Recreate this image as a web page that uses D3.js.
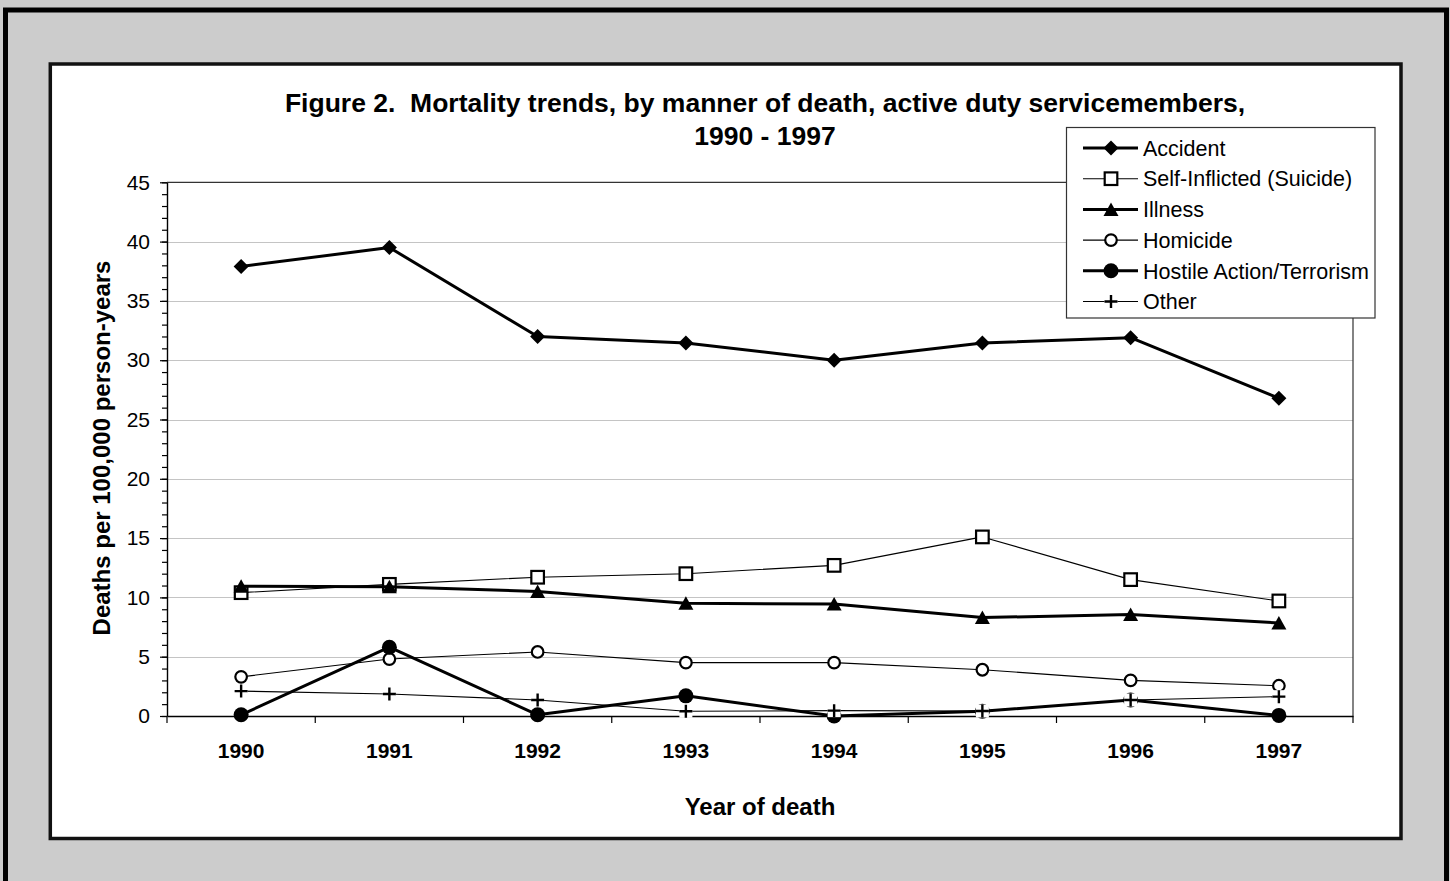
<!DOCTYPE html>
<html>
<head>
<meta charset="utf-8">
<script src="https://cdn.jsdelivr.net/npm/d3@7/dist/d3.min.js"></script>
<style>
  html, body { margin: 0; padding: 0; background: #cccccc; }
  svg { display: block; font-family: "Liberation Sans", Arial, sans-serif; }
</style>
</head>
<body>
<div id="chart"></div>
<script>
// values (deaths per 100,000 person-years)
const years = ["1990", "1991", "1992", "1993", "1994", "1995", "1996", "1997"];
const accident = [37.9, 39.5, 32.0, 31.45, 30.0, 31.45, 31.9, 26.8];
const suicide = [10.4, 11.1, 11.7, 12.0, 12.7, 15.1, 11.5, 9.7];
const illness = [10.95, 10.9, 10.5, 9.5, 9.45, 8.3, 8.55, 7.85];
const homicide = [3.3, 4.8, 5.4, 4.5, 4.5, 3.9, 3.0, 2.55];
const hostile = [0.1, 5.8, 0.1, 1.7, 0.0, 0.4, 1.35, 0.05];
const other = [2.1, 1.85, 1.35, 0.4, 0.45, 0.42, 1.35, 1.63];

const seriesNames = ["Accident", "Self-Inflicted (Suicide)", "Illness", "Homicide", "Hostile Action/Terrorism", "Other"];
const seriesValues = [accident, suicide, illness, homicide, hostile, other];
const seriesMarkers = ["diamond", "square", "triangle", "circleOpen", "circleFilled", "plus"];
const seriesWidths = [3, 1.1, 3, 1.1, 3, 1.1];

const yTicks = [0, 5, 10, 15, 20, 25, 30, 35, 40, 45];
const yMinor = d3.range(0, 46, 1);

const titleLines = ["Figure 2.  Mortality trends, by manner of death, active duty servicemembers,", "1990 - 1997"];
const xTitle = "Year of death";
const yTitle = "Deaths per 100,000 person-years";

const W = 1450, H = 881;

const svg = d3.select("#chart")
  .append("svg")
  .attr("width", W)
  .attr("height", H);

// gray page + frames
svg.append("rect").attr("width", W).attr("height", H).attr("fill", "#cccccc");
svg.append("rect")
  .attr("x", 5.5).attr("y", 10).attr("width", 1441).attr("height", 1000)
  .attr("fill", "none").attr("stroke", "#000").attr("stroke-width", 5);
svg.append("rect")
  .attr("x", 50.3).attr("y", 64).attr("width", 1350.7).attr("height", 774.5)
  .attr("fill", "#fff").attr("stroke", "#111").attr("stroke-width", 3.5);

const plot = { left: 167, right: 1353, top: 182.3, bottom: 716 };

const x = d3.scaleBand().domain(years).range([plot.left, plot.right]);
const y = d3.scaleLinear().domain([0, 45]).range([plot.bottom, plot.top]);
const cx = d => x(d) + x.bandwidth() / 2;

// gridlines
svg.append("g")
  .selectAll("line")
  .data(yTicks.filter(v => v > 0 && v < 45))
  .enter()
  .append("line")
  .attr("x1", plot.left).attr("x2", plot.right)
  .attr("y1", d => Math.round(y(d)) + 0.5).attr("y2", d => Math.round(y(d)) + 0.5)
  .attr("stroke", "#c4c4c4").attr("stroke-width", 1.2);

// plot area border (top + right)
svg.append("path")
  .attr("d", `M${plot.left},${y(45)}H${plot.right}V${y(0)}`)
  .attr("fill", "none").attr("stroke", "#333").attr("stroke-width", 1.2);

// y axis
const yMinorAxis = svg.append("g")
  .attr("transform", `translate(${plot.left},0)`)
  .call(d3.axisLeft(y).tickValues(yMinor).tickSize(5).tickFormat(""));
yMinorAxis.select(".domain").remove();
yMinorAxis.selectAll("line").attr("stroke", "#000").attr("stroke-width", 1.2);

const yAxis = svg.append("g")
  .attr("transform", `translate(${plot.left},0)`)
  .call(d3.axisLeft(y).tickValues(yTicks).tickSize(7).tickSizeOuter(0).tickPadding(10));
yAxis.selectAll("line").attr("stroke", "#000").attr("stroke-width", 1.2);
yAxis.select(".domain").attr("stroke", "#000").attr("stroke-width", 1.4);
yAxis.selectAll("text")
  .attr("font-size", 21)
  .attr("font-family", "'Liberation Sans', Arial, sans-serif")
  .attr("fill", "#000");

// x axis
const xAxis = svg.append("g")
  .attr("transform", `translate(0,${plot.bottom})`)
  .call(d3.axisBottom(x).tickSize(0).tickSizeOuter(0).tickPadding(0));
xAxis.select(".domain").attr("stroke", "#000").attr("stroke-width", 1.4);
xAxis.selectAll("text")
  .attr("y", 42).attr("dy", null)
  .attr("font-size", 21)
  .attr("font-weight", "bold")
  .attr("font-family", "'Liberation Sans', Arial, sans-serif")
  .attr("fill", "#000");

svg.append("g")
  .selectAll("line")
  .data(years.map(d => x(d)).concat([plot.right]))
  .enter()
  .append("line")
  .attr("x1", d => d).attr("x2", d => d)
  .attr("y1", plot.bottom).attr("y2", plot.bottom + 7)
  .attr("stroke", "#000").attr("stroke-width", 1.2);

// markers
function drawMarker(g, type, px, py) {
  if (type === "diamond") {
    g.append("path")
      .attr("d", `M${px},${py - 7.5}L${px + 7.5},${py}L${px},${py + 7.5}L${px - 7.5},${py}Z`)
      .attr("fill", "#000");
  } else if (type === "square") {
    g.append("rect")
      .attr("x", px - 6.3).attr("y", py - 6.3).attr("width", 12.6).attr("height", 12.6)
      .attr("fill", "#fff").attr("stroke", "#000").attr("stroke-width", 2.2);
  } else if (type === "triangle") {
    g.append("path")
      .attr("d", `M${px},${py - 7}L${px + 7.5},${py + 6.5}L${px - 7.5},${py + 6.5}Z`)
      .attr("fill", "#000");
  } else if (type === "circleOpen") {
    g.append("circle")
      .attr("cx", px).attr("cy", py).attr("r", 5.8)
      .attr("fill", "#fff").attr("stroke", "#000").attr("stroke-width", 2.2);
  } else if (type === "circleFilled") {
    g.append("circle")
      .attr("cx", px).attr("cy", py).attr("r", 7.5)
      .attr("fill", "#000");
  } else if (type === "plus") {
    g.append("rect")
      .attr("x", px - 6.5).attr("y", py - 6.5).attr("width", 13).attr("height", 13)
      .attr("fill", "#fff");
    g.append("path")
      .attr("d", `M${px - 6.5},${py}H${px + 6.5}M${px},${py - 6.5}V${py + 6.5}`)
      .attr("stroke", "#000").attr("stroke-width", 2.4);
  }
}

// series
const line = d3.line()
  .x((d, i) => cx(years[i]))
  .y(d => y(d));

seriesValues.forEach((vals, s) => {
  const g = svg.append("g");
  g.append("path")
    .attr("d", line(vals))
    .attr("fill", "none")
    .attr("stroke", "#000")
    .attr("stroke-width", seriesWidths[s])
    .attr("stroke-linejoin", "round");
  vals.forEach((v, i) => drawMarker(g, seriesMarkers[s], cx(years[i]), y(v)));
});

// titles
svg.append("g")
  .selectAll("text")
  .data(titleLines)
  .enter()
  .append("text")
  .attr("x", 765)
  .attr("y", (d, i) => i === 0 ? 112 : 145)
  .attr("text-anchor", "middle")
  .attr("font-size", 26.5)
  .attr("font-weight", "bold")
  .style("white-space", "pre")
  .text(d => d);

svg.append("text")
  .attr("x", 760).attr("y", 815)
  .attr("text-anchor", "middle")
  .attr("font-size", 24)
  .attr("font-weight", "bold")
  .text(xTitle);

svg.append("text")
  .attr("transform", "translate(110,448) rotate(-90)")
  .attr("text-anchor", "middle")
  .attr("font-size", 24)
  .attr("font-weight", "bold")
  .text(yTitle);

// legend
const legend = svg.append("g");
legend.append("rect")
  .attr("x", 1066.5).attr("y", 127.5).attr("width", 308.5).attr("height", 190.5)
  .attr("fill", "#fff").attr("stroke", "#333").attr("stroke-width", 1.2);

seriesNames.forEach((name, s) => {
  const ly = 148 + s * 30.7;
  const g = legend.append("g");
  g.append("line")
    .attr("x1", 1083).attr("x2", 1138)
    .attr("y1", ly).attr("y2", ly)
    .attr("stroke", "#000").attr("stroke-width", seriesWidths[s]);
  drawMarker(g, seriesMarkers[s], 1111, ly);
  g.append("text")
    .attr("x", 1143).attr("y", ly)
    .attr("dy", "0.36em")
    .attr("font-size", 21.5)
    .text(name);
});
</script>
</body>
</html>
